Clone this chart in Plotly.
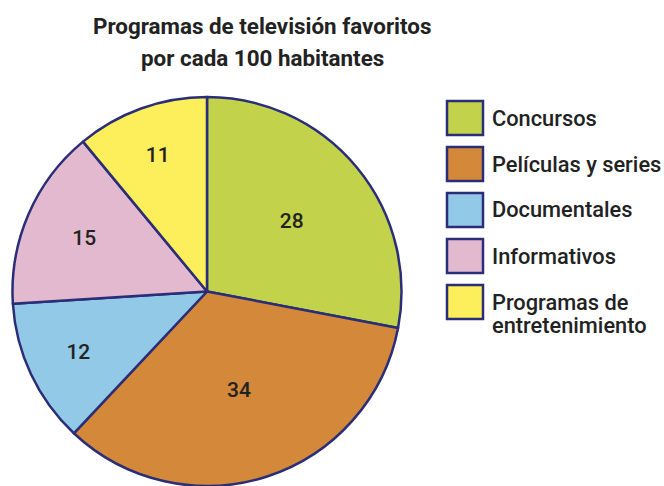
import plotly.graph_objects as go

categories = ["Concursos", "Películas y series", "Documentales", "Informativos",
              "Programas de entretenimiento"]
legend_lines = [["Concursos"], ["Películas y series"], ["Documentales"], ["Informativos"],
                ["Programas de", "entretenimiento"]]
values = [28, 34, 12, 15, 11]
colors = ["#c2d34b", "#d4883a", "#92c9e6", "#e2b9cf", "#fdee5c"]
title_lines = ["Programas de televisión favoritos", "por cada 100 habitantes"]

W, H = 664, 486
border = "#2a2d78"
txt = "#222222"
FONT = "Roboto"

fig = go.Figure()
fig.add_trace(go.Pie(
    labels=categories, values=values, sort=False, direction="clockwise",
    rotation=0,
    marker=dict(colors=colors, line=dict(color=border, width=2.5)),
    textinfo="value", textposition="inside", insidetextorientation="horizontal",
    textfont=dict(family=FONT, size=21, color=txt, weight=500),
    domain=dict(x=[10 / W, 404 / W], y=[0, 1 - 97 / H]),
    showlegend=False, hoverinfo="label+value",
))

shapes = []
annotations = []
box_x0, box_x1 = 447, 483
top0, pitch, bh = 101, 46, 34
for i, (lines, col) in enumerate(zip(legend_lines, colors)):
    y0 = top0 + i * pitch
    shapes.append(dict(type="rect", xref="paper", yref="paper",
                       x0=box_x0 / W, x1=box_x1 / W,
                       y0=1 - (y0 + bh) / H, y1=1 - y0 / H,
                       fillcolor=col, line=dict(color=border, width=2.5)))
    if len(lines) == 1:
        ys = [y0 + bh / 2]
    else:
        ys = [y0 + bh / 2, y0 + bh / 2 + 23]
    for ln, yc in zip(lines, ys):
        annotations.append(dict(xref="paper", yref="paper", x=490 / W, y=1 - yc / H,
                                xanchor="left", yanchor="middle", align="left",
                                text=ln, showarrow=False,
                                font=dict(family=FONT, size=21.8, color=txt, weight=500)))

for ln, yc in zip(title_lines, [26, 58]):
    annotations.append(dict(xref="paper", yref="paper", x=262 / W, y=1 - yc / H,
                            xanchor="center", yanchor="middle", text=ln, showarrow=False,
                            font=dict(family=FONT, size=22.4, color=txt, weight="bold")))

fig.update_layout(
    width=W, height=H, margin=dict(l=0, r=0, t=0, b=0),
    paper_bgcolor="white", plot_bgcolor="white",
    shapes=shapes, annotations=annotations,
)

fig.write_html("out.html", config={"displayModeBar": False},
               post_script="document.body.style.margin='0';document.body.style.overflow='hidden';")
